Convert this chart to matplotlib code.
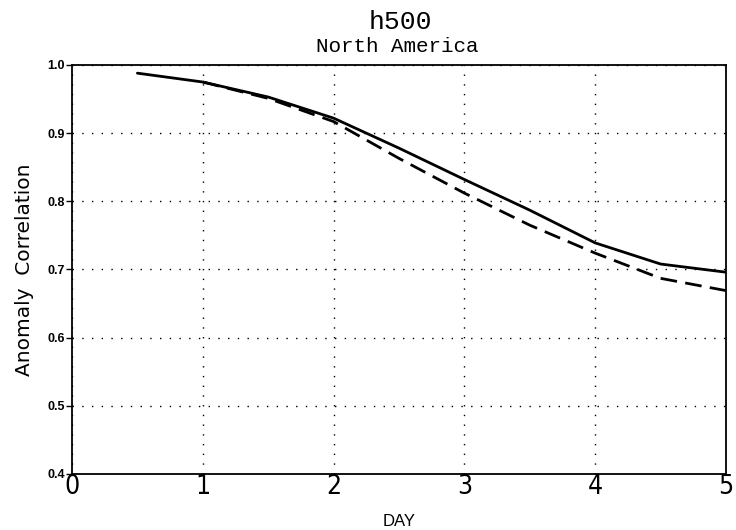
import matplotlib
matplotlib.use("Agg")
import matplotlib.pyplot as plt

# Forecast day and anomaly correlation
days = [0.5, 1.0, 1.5, 2.0, 2.5, 3.0, 3.5, 4.0, 4.5, 5.0]
solid_ac = [0.988, 0.975, 0.953, 0.922, 0.878, 0.832, 0.787, 0.739, 0.708, 0.696]
dashed_days = [1.0, 1.5, 2.0, 2.5, 3.0, 3.5, 4.0, 4.5, 5.0]
dashed_ac = [0.975, 0.951, 0.917, 0.863, 0.812, 0.765, 0.724, 0.687, 0.669]

x_ticks = [0, 1, 2, 3, 4, 5]
y_ticks = [0.4, 0.5, 0.6, 0.7, 0.8, 0.9, 1.0]

fig = plt.figure(figsize=(7.36, 5.30), dpi=100)
ax = fig.add_axes([0.0978, 0.1057, 0.8886, 0.7717])

ax.plot(days, solid_ac, color="black", lw=2.0, solid_capstyle="round")
ax.plot(dashed_days, dashed_ac, color="black", lw=2.0, dashes=(6, 3))

ax.set_xlim(0, 5)
ax.set_ylim(0.4, 1.0)
ax.set_xticks(x_ticks)
ax.set_yticks(y_ticks)
ax.set_xticklabels([str(t) for t in x_ticks], fontsize=19, family="DejaVu Sans",
                   fontweight="light", fontstretch="condensed")
ax.set_yticklabels([f"{t:.1f}" for t in y_ticks], fontsize=9, fontweight="bold",
                   family="Liberation Sans")
ax.tick_params(axis="x", direction="in", length=0, pad=0)
ax.tick_params(axis="y", direction="out", length=4, width=1, pad=1)

# Sparse dotted grid like the original plotter output
ax.grid(True, color="black", linestyle=(0, (1, 6)), linewidth=1.0)

for s in ax.spines.values():
    s.set_linewidth(1.3)

ax.set_xlabel("DAY", fontsize=12, family="Liberation Sans", labelpad=10)
ax.set_ylabel("Anomaly  Correlation", fontsize=14.5, family="DejaVu Sans",
              labelpad=10)

fig.text(0.5435, 0.958, "h500", ha="center", va="center", fontsize=19,
         family="Liberation Mono")
fig.text(0.5395, 0.912, "North America", ha="center", va="center", fontsize=15,
         family="Liberation Mono")

fig.savefig("out.png", dpi=100)
plt.close(fig)
